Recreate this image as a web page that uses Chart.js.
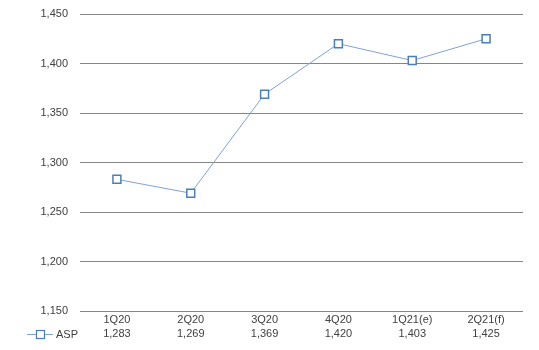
<!DOCTYPE html>
<html>
<head>
<meta charset="utf-8">
<script src="https://cdn.jsdelivr.net/npm/chart.js@4/dist/chart.umd.min.js"></script>
<style>
  html, body { margin: 0; padding: 0; background: #fff; }
  #wrap { width: 539px; height: 350px; }
</style>
</head>
<body>
<div id="wrap"><canvas id="chartCanvas" width="539" height="350"></canvas></div>
<script>
// donnees
const quarters = ['1Q20', '2Q20', '3Q20', '4Q20', '1Q21(e)', '2Q21(f)'];
const aspValues = [1283, 1269, 1369, 1420, 1403, 1425];
const seriesName = 'ASP';
const yMin = 1150;
const yMax = 1450;
const yStep = 50;

const lineColor = '#7EA3D6';
const markerColor = '#4A7EBB';
const textColor = '#404040';
const fontFamily = '"Liberation Sans", Arial, sans-serif';

function fmt(v) {
    return v.toLocaleString('en-US');
}

// etiquettes sur deux lignes : trimestre puis valeur (table de donnees)
const xLabels = quarters.map((q, i) => [q, fmt(aspValues[i])]);

// legende dans la table de donnees, a gauche de la ligne des valeurs
const tableLegend = {
    id: 'tableLegend',
    afterDraw(chart) {
        const ctx = chart.ctx;
        const y = 334;
        ctx.save();
        ctx.strokeStyle = lineColor;
        ctx.lineWidth = 1;
        ctx.beginPath();
        ctx.moveTo(27, y + 0.5);
        ctx.lineTo(53, y + 0.5);
        ctx.stroke();
        ctx.fillStyle = '#fff';
        ctx.strokeStyle = markerColor;
        ctx.lineWidth = 1.2;
        ctx.fillRect(36.5, y - 3.5, 8, 8);
        ctx.strokeRect(36.5, y - 3.5, 8, 8);
        ctx.fillStyle = textColor;
        ctx.font = '11px ' + fontFamily;
        ctx.textBaseline = 'middle';
        ctx.textAlign = 'left';
        ctx.fillText(seriesName, 56, y + 0.5);
        ctx.restore();
    }
};

const ctx = document.getElementById('chartCanvas').getContext('2d');
new Chart(ctx, {
    type: 'line',
    data: {
        labels: xLabels,
        datasets: [{
            label: seriesName,
            data: aspValues,
            borderColor: lineColor,
            borderWidth: 1,
            backgroundColor: '#fff',
            pointStyle: 'rect',
            pointRadius: 5.6,
            pointBorderWidth: 1.5,
            pointBorderColor: markerColor,
            pointBackgroundColor: '#fff',
            tension: 0
        }]
    },
    options: {
        responsive: false,
        animation: false,
        layout: { padding: { top: 14, right: 16, left: 0, bottom: 0 } },
        plugins: {
            legend: { display: false },
            tooltip: { enabled: false }
        },
        scales: {
            x: {
                offset: true,
                grid: { display: false, drawTicks: false },
                border: { display: false },
                ticks: {
                    color: textColor,
                    font: { family: fontFamily, size: 11, lineHeight: 1.36 },
                    padding: 1,
                    maxRotation: 0,
                    autoSkip: false
                },
                afterFit(scale) {
                    scale.height = 39;
                    scale.paddingLeft = 0;
                    scale.paddingRight = 0;
                }
            },
            y: {
                min: yMin,
                max: yMax,
                grid: { color: '#868686', lineWidth: 1, drawTicks: false },
                border: { display: false },
                ticks: {
                    stepSize: yStep,
                    color: textColor,
                    font: { family: fontFamily, size: 11 },
                    padding: 12,
                    callback: function(value) { return fmt(value); }
                },
                afterFit(scale) {
                    scale.width = 80;
                    scale.paddingTop = 0;
                    scale.paddingBottom = 0;
                }
            }
        }
    },
    plugins: [tableLegend]
});
</script>
</body>
</html>
